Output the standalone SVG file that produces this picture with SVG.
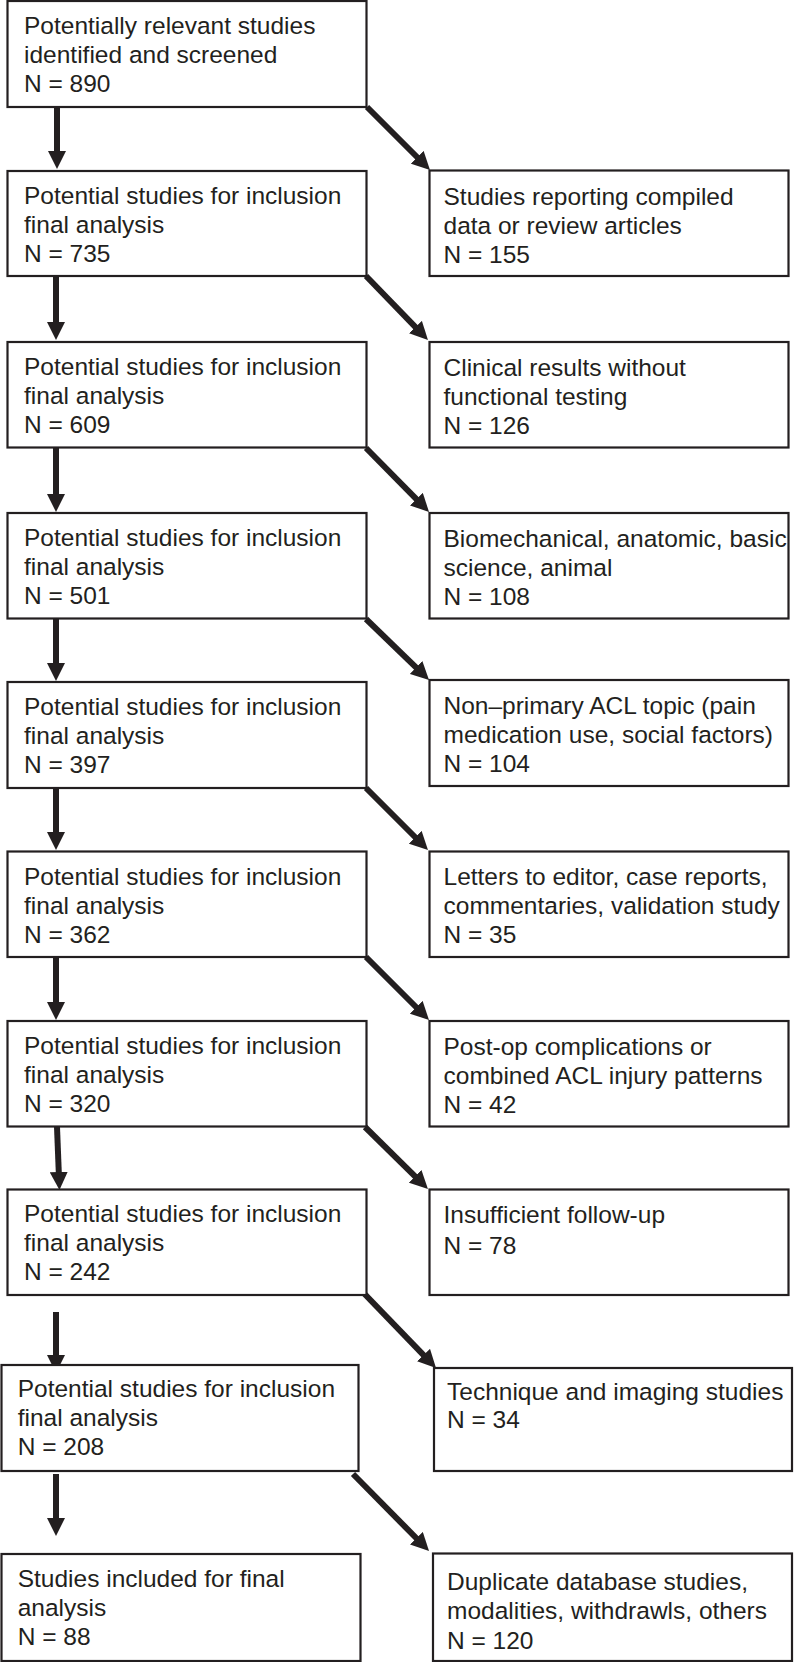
<svg xmlns="http://www.w3.org/2000/svg" width="794" height="1662" viewBox="0 0 794 1662">
<style>
.box{fill:#fff;stroke:#231f20;stroke-width:2.2}
text{font-family:"Liberation Sans",Arial,sans-serif;font-size:24.5px;fill:#231f20}
.c{stroke:#231f20;stroke-width:6;fill:none;marker-end:url(#ah)}
</style>
<defs>
<marker id="ah" markerUnits="userSpaceOnUse" markerWidth="18" markerHeight="18" refX="6" refY="9" orient="auto" viewBox="0 0 18 18">
<path d="M0,0 L18,9 L0,18 z" fill="#231f20"/>
</marker>
</defs>
<rect width="794" height="1662" fill="#fff"/>
<g id="connectors">
<line class="c" x1="57" y1="107" x2="57" y2="157"/>
<line class="c" x1="367" y1="107" x2="421.5" y2="161.5"/>
<line class="c" x1="56" y1="277" x2="56" y2="328"/>
<line class="c" x1="366" y1="276" x2="419.6" y2="331.4"/>
<line class="c" x1="56" y1="448" x2="56" y2="500"/>
<line class="c" x1="366" y1="448" x2="420.6" y2="503.4"/>
<line class="c" x1="56" y1="619" x2="56" y2="669"/>
<line class="c" x1="366" y1="619" x2="420.4" y2="671.7"/>
<line class="c" x1="56" y1="788" x2="56" y2="838"/>
<line class="c" x1="366" y1="788" x2="419.5" y2="841.5"/>
<line class="c" x1="56" y1="957" x2="56" y2="1008"/>
<line class="c" x1="366" y1="957" x2="420.5" y2="1011.5"/>
<line class="c" x1="57" y1="1127" x2="59" y2="1178"/>
<line class="c" x1="365" y1="1127" x2="419.4" y2="1180.6"/>
<line class="c" x1="56" y1="1312" x2="56" y2="1361"/>
<line class="c" x1="354" y1="1283" x2="427.7" y2="1359.4"/>
<line class="c" x1="56" y1="1474" x2="56" y2="1524"/>
<line class="c" x1="353" y1="1474" x2="420.6" y2="1542.5"/>
</g>
<g id="n890"><rect class="box" x="7.5" y="1" width="359" height="106"/>
<text x="24" y="33.5">Potentially relevant studies</text><text x="24" y="62.5">identified and screened</text><text x="24" y="91.5">N = 890</text></g>
<g id="n735"><rect class="box" x="7.5" y="171" width="359" height="105"/>
<text x="24" y="204">Potential studies for inclusion</text><text x="24" y="233">final analysis</text><text x="24" y="262">N = 735</text></g>
<g id="n609"><rect class="box" x="7.5" y="342" width="359" height="105.5"/>
<text x="24" y="375">Potential studies for inclusion</text><text x="24" y="404">final analysis</text><text x="24" y="433">N = 609</text></g>
<g id="n501"><rect class="box" x="7.5" y="513" width="359" height="105.5"/>
<text x="24" y="546">Potential studies for inclusion</text><text x="24" y="575">final analysis</text><text x="24" y="604">N = 501</text></g>
<g id="n397"><rect class="box" x="7.5" y="682" width="359" height="106"/>
<text x="24" y="715">Potential studies for inclusion</text><text x="24" y="744">final analysis</text><text x="24" y="773">N = 397</text></g>
<g id="n362"><rect class="box" x="7.5" y="851.5" width="359" height="105.5"/>
<text x="24" y="884.5">Potential studies for inclusion</text><text x="24" y="913.5">final analysis</text><text x="24" y="942.5">N = 362</text></g>
<g id="n320"><rect class="box" x="7.5" y="1021" width="359" height="105.5"/>
<text x="24" y="1054">Potential studies for inclusion</text><text x="24" y="1083">final analysis</text><text x="24" y="1112">N = 320</text></g>
<g id="n242"><rect class="box" x="7.5" y="1189.5" width="359" height="105.5"/>
<text x="24" y="1222">Potential studies for inclusion</text><text x="24" y="1251">final analysis</text><text x="24" y="1280">N = 242</text></g>
<g id="n208"><rect class="box" x="1.5" y="1365" width="357" height="106"/>
<text x="17.7" y="1397">Potential studies for inclusion</text><text x="17.7" y="1426">final analysis</text><text x="17.7" y="1455">N = 208</text></g>
<g id="n88"><rect class="box" x="1.5" y="1554" width="359" height="107"/>
<text x="17.7" y="1587">Studies included for final</text><text x="17.7" y="1616">analysis</text><text x="17.7" y="1645">N = 88</text></g>
<g id="x155"><rect class="box" x="429.5" y="170.5" width="359" height="105.5"/>
<text x="443.5" y="205">Studies reporting compiled</text><text x="443.5" y="234">data or review articles</text><text x="443.5" y="263">N = 155</text></g>
<g id="x126"><rect class="box" x="429.5" y="342" width="359" height="105.5"/>
<text x="443.5" y="376">Clinical results without</text><text x="443.5" y="405">functional testing</text><text x="443.5" y="434">N = 126</text></g>
<g id="x108"><rect class="box" x="429.5" y="513" width="359" height="105.5"/>
<text x="443.5" y="547">Biomechanical, anatomic, basic</text><text x="443.5" y="576">science, animal</text><text x="443.5" y="605">N = 108</text></g>
<g id="x104"><rect class="box" x="429.5" y="680" width="359" height="106"/>
<text x="443.5" y="714">Non–primary ACL topic (pain</text><text x="443.5" y="743">medication use, social factors)</text><text x="443.5" y="772">N = 104</text></g>
<g id="x35"><rect class="box" x="429.5" y="851.5" width="359" height="105.5"/>
<text x="443.5" y="885">Letters to editor, case reports,</text><text x="443.5" y="914">commentaries, validation study</text><text x="443.5" y="943">N = 35</text></g>
<g id="x42"><rect class="box" x="429.5" y="1021" width="359" height="105.5"/>
<text x="443.5" y="1055">Post-op complications or</text><text x="443.5" y="1084">combined ACL injury patterns</text><text x="443.5" y="1113">N = 42</text></g>
<g id="x78"><rect class="box" x="429.5" y="1189.5" width="359" height="105.5"/>
<text x="443.5" y="1223">Insufficient follow-up</text><text x="443.5" y="1254">N = 78</text></g>
<g id="x34"><rect class="box" x="434" y="1368" width="358" height="103"/>
<text x="447" y="1400">Technique and imaging studies</text><text x="447" y="1428">N = 34</text></g>
<g id="x120"><rect class="box" x="433" y="1553.5" width="359" height="107.5"/>
<text x="447" y="1590">Duplicate database studies,</text><text x="447" y="1619">modalities, withdrawls, others</text><text x="447" y="1649">N = 120</text></g>
</svg>
